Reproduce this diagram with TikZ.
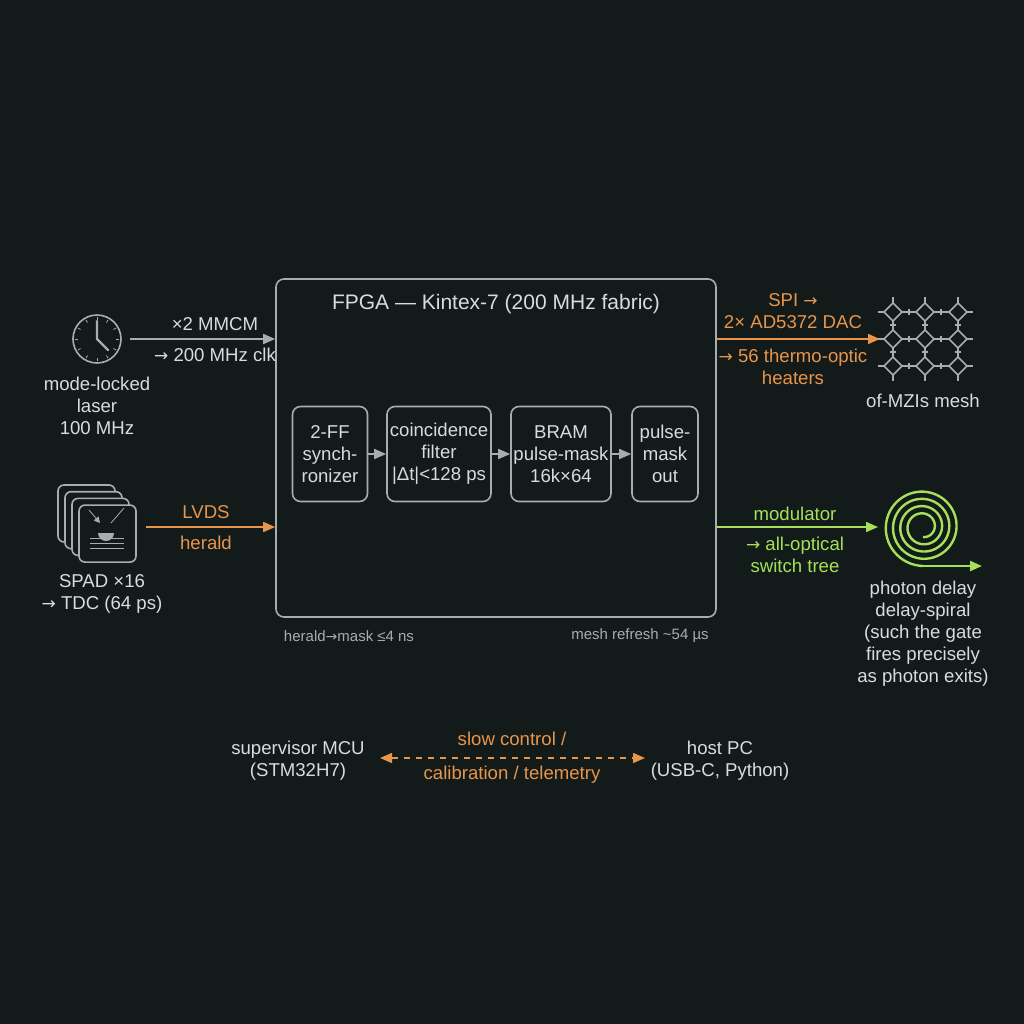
\documentclass[tikz,border=0pt]{standalone}
\usepackage{fontspec}
\setmainfont{Liberation Sans}
\newfontfamily\symf{DejaVu Sans}
\newcommand{\ra}{{\symf\fontsize{8.5}{9}\selectfont →}}
\usetikzlibrary{arrows.meta}
\definecolor{bg}{HTML}{121A1A}
\definecolor{fg}{HTML}{D8DCDC}
\definecolor{ln}{HTML}{A8AEAE}
\definecolor{org}{HTML}{E8954A}
\definecolor{grn}{HTML}{A6E05A}
\begin{document}
\begin{tikzpicture}[x=0.5pt,y=-0.5pt,
 txt/.style = {text=fg, font=\fontsize{9.3}{11}\selectfont, align=center, inner sep=0pt},
 otxt/.style = {txt, text=org},
 gtxt/.style = {txt, text=grn},
 note/.style = {txt, text=ln, font=\fontsize{7.5}{9}\selectfont},
 blk/.style = {draw=ln, thick, rounded corners=4pt, inner sep=0pt},
 arr/.style = {draw=#1, thick, -{Triangle[length=6pt,width=5pt,fill=#1]}},
 arr/.default = ln
                    ]
\useasboundingbox[fill=bg] (0,0) rectangle (1024,1024);
% FPGA
\node(fpga) [blk, minimum width=220pt, minimum height=169pt] at (496,448) {};
\node(title) [txt, font=\fontsize{10.5}{12}\selectfont] at (496,304) {FPGA — Kintex-7 (200 MHz fabric)};
\node(sync) [blk, minimum width=37.5pt, minimum height=47.5pt, txt] at (330,454) {2-FF\\synch-\\ronizer};
\node(coin) [blk, minimum width=52pt, minimum height=47.5pt, txt] at (439,454) {coincidence\\filter\\|Δt|<128 ps};
\node(bram) [blk, minimum width=50pt, minimum height=47.5pt, txt] at (561,454) {BRAM\\pulse-mask\\16k×64};
\node(pout) [blk, minimum width=33pt, minimum height=47.5pt, txt] at (665,454) {pulse-\\mask\\out};
\draw[arr]   (sync)  -- (coin);
\draw[arr]   (coin)  -- (bram);
\draw[arr]   (bram)  -- (pout);
\node(lat) [note] at (349,636) {herald{\symf\fontsize{7}{9}\selectfont →}mask ≤4 ns};
\node(refr) [note] at (640,636) {mesh refresh \textasciitilde54 µs};
% laser
\node(clk) [circle, draw=ln, thick, minimum size=24pt] at (97,339) {};
\foreach \a in {0,30,...,330}
  \draw[ln] (clk.center) ++(\a:19) -- ++(\a:3);
\draw[ln, very thick, line cap=round] (97,321) -- (clk.center) -- (108,350);
\node(laser) [txt] at (97,406) {mode-locked\\laser\\100 MHz};
\coordinate(clkin) at (fpga.west |- clk);
\draw[arr] (130,339) -- (clkin);
\node(mmcm) [txt] at (215,324) {×2 MMCM};
\node(clkf) [txt] at (215,355) {\ra\ 200 MHz clk};
% SPAD
\foreach \i in {0,1,2,3}
  \draw[ln, thick, fill=bg, rounded corners=3pt] (58+7*\i,485+6.7*\i) rectangle ++(57,57);
\node(spad) [minimum size=28pt, inner sep=0pt] at (108,533) {};
\fill[ln] (98,533) arc (180:0:8) -- cycle;
\foreach \y in {538,543,548} \draw[ln] (90,\y) -- (124,\y);
\draw[ln, -{Triangle[length=3pt,width=3pt]}] (89,510) -- (100,523);
\draw[ln] (111,523) -- (124,508);
\node(spadl) [txt] at (102,594) {SPAD ×16\\\ra\ TDC (64 ps)};
\coordinate(herin) at (fpga.west |- 0,527);
\draw[arr=org] (146,527) -- (herin);
\node(lvds) [otxt] at (206,512) {LVDS};
\node(her) [otxt] at (206,543) {herald};
% mesh
\coordinate(spiout) at (fpga.east |- 0,339);
\draw[arr=org] (spiout) -- (880,339);
\node(spi) [otxt] at (793,339) {SPI \ra\\2× AD5372 DAC\\[6pt]\ra\ 56 thermo-optic\\heaters};
\begin{scope}[ln, thick]
\foreach \x in {893,925,958} \foreach \y in {312,339,366}
  \draw (\x-9,\y) -- (\x,\y-9) -- (\x+9,\y) -- (\x,\y+9) -- cycle;
\foreach \x in {893,925,958} {
  \draw (\x,303) -- (\x,297); \draw (\x,375) -- (\x,381);
  \draw (\x,321) -- (\x,330); \draw (\x,348) -- (\x,357);
  \draw (\x-3,325) -- (\x+3,325); \draw (\x-3,352) -- (\x+3,352);}
\foreach \y in {312,339,366} {
  \draw (884,\y) -- (878,\y); \draw (967,\y) -- (973,\y);
  \draw (902,\y) -- (916,\y); \draw (934,\y) -- (949,\y);
  \draw (909,\y-3) -- (909,\y+3); \draw (941,\y-3) -- (941,\y+3);}
\end{scope}
\node(mesh) [txt] at (923,401) {of-MZIs mesh};
% spiral
\coordinate(modout) at (fpga.east |- 0,527);
\draw[arr=grn] (modout) -- (878,527);
\node(mod) [gtxt] at (795,540) {modulator\\[4pt]\ra\ all-optical\\switch tree};
\coordinate(spic) at (923,527);
\draw[grn, very thick] plot[domain=-90:1350, samples=240, smooth]
  ({923+(10+(\x+90)/1440*29)*cos(\x)}, {527-(10+(\x+90)/1440*29)*sin(\x)});
\coordinate(spend) at (982,566);
\draw[arr=grn, very thick] (923,566) -- (spend);
\node(delay) [txt] at (923,634) {photon delay\\delay-spiral\\(such the gate\\fires precisely\\as photon exits)};
% bottom
\node(mcu) [txt] at (298,761) {supervisor MCU\\(STM32H7)};
\node(host) [txt] at (720,761) {host PC\\(USB-C, Python)};
\draw[org, thick, dashed, {Triangle[length=6pt,width=5pt]}-{Triangle[length=6pt,width=5pt]}] (380,758) -- (645,758);
\node(slow) [otxt] at (512,758) {slow control /\\[6pt]calibration / telemetry};
\end{tikzpicture}
\end{document}
